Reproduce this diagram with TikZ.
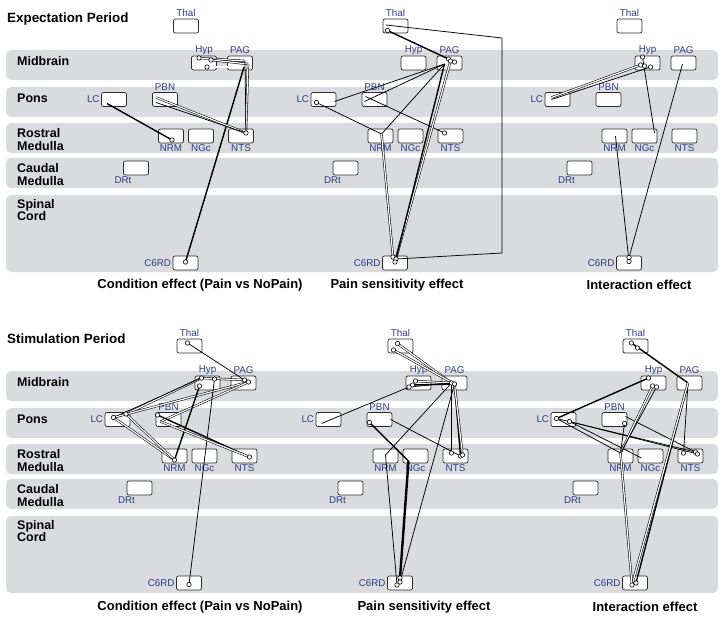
\documentclass[tikz,border=0pt]{standalone}
\usepackage{fontspec}
\setmainfont{Liberation Sans}
\usetikzlibrary{calc}
\definecolor{bandgray}{HTML}{DADBDE}
\definecolor{labblue}{HTML}{2E3A85}
\definecolor{boxline}{HTML}{2A2A2A}

% point inside a region box, offset from its centre
\newcommand{\spot}[4]{\coordinate (#1) at ([shift={(#3,#4)}]#2.center);}
% one set of region boxes: #1 name prefix, #2/#3 shift
\newcommand{\brainpanel}[3]{%
  \begin{scope}[shift={(#2,#3)}]
    \node[region, label={[lab]above:Thal}] (#1Thal) at (186,26) {};
    \node[region, label={[lab]above:Hyp}] (#1Hyp) at (204,63) {};
    \node[region, label={[lab]above:PAG}] (#1PAG) at (240,63) {};
    \node[region, label={[lab]left:LC}] (#1LC) at (114,99.5) {};
    \node[region, label={[lab]above:PBN}] (#1PBN) at (165,99.5) {};
    \node[region, label={[lab]below:NRM}] (#1NRM) at (171,136) {};
    \node[region, label={[lab]below:NGc}] (#1NGc) at (201,136) {};
    \node[region, label={[lab]below:NTS}] (#1NTS) at (241,136) {};
    \node[region, label={[lab, xshift=-13pt]below:DRt}] (#1DRt) at (136,168) {};
    \node[region, label={[lab]left:C6RD}] (#1C6RD) at (185.5,263) {};
  \end{scope}}

\begin{document}
\begin{tikzpicture}[x=1pt, y=-1pt,
  band/.style={fill=bandgray, rounded corners=5pt},
  zone/.style={anchor=west, align=left, inner sep=0pt, font=\fontsize{12.5}{12.5}\selectfont\bfseries},
  heading/.style={anchor=west, inner sep=0pt, font=\fontsize{13.4}{14}\selectfont\bfseries},
  effect/.style={inner sep=0pt, font=\fontsize{13}{14}\selectfont\bfseries},
  region/.style={draw=boxline, line width=0.7pt, rounded corners=2pt, fill=white, minimum width=25pt, minimum height=14pt, inner sep=0pt},
  lab/.style={font=\fontsize{9.8}{10}\selectfont, text=labblue, inner sep=1.4pt},
  solo/.style={line width=0.75pt},
  strong/.style={line width=1.4pt},
  heavy/.style={line width=2.4pt},
  twin/.style={draw=black, line width=0.55pt, double=white, double distance=1.2pt},
  hole/.style={draw=black, fill=white, line width=0.6pt},
]
\useasboundingbox (0,0) rectangle (728,623);

% grey rows and row names, same for both periods
\foreach \dy/\p in {0/e, 321/s}{
  \begin{scope}[shift={(0,\dy)}]
    \fill[band] (6,50) rectangle (718,80);
    \fill[band] (6,87) rectangle (718,117);
    \fill[band] (6,123) rectangle (718,153);
    \fill[band] (6,158) rectangle (718,188);
    \fill[band] (6,195) rectangle (718,272);
    \node[zone] (\p mid) at (17,61) {Midbrain};
    \node[zone] (\p pons) at (17,98) {Pons};
    \node[zone] (\p rost) at (17,139.5) {Rostral\\Medulla};
    \node[zone] (\p caud) at (17,174.5) {Caudal\\Medulla};
    \node[zone] (\p spin) at (17,210) {Spinal\\Cord};
  \end{scope}
}

\node[heading] (expect) at (7,19) {Expectation Period};
\node[heading] (stim) at (7,339) {Stimulation Period};

\brainpanel{ec}{0}{0}
\brainpanel{es}{209.5}{0}
\brainpanel{ei}{443.5}{0}
\brainpanel{sc}{3.5}{320}
\brainpanel{ss}{214.5}{320}
\brainpanel{si}{449.5}{320}

\node[effect] (ecCap) at (200,285) {Condition effect (Pain vs NoPain)};
\node[effect] (esCap) at (397,285) {Pain sensitivity effect};
\node[effect] (eiCap) at (639,285) {Interaction effect};
\node[effect] (scCap) at (200,607) {Condition effect (Pain vs NoPain)};
\node[effect] (ssCap) at (424,607) {Pain sensitivity effect};
\node[effect] (siCap) at (645,607) {Interaction effect};

% Expectation: condition effect
\spot{ecHyp1}{ecHyp}{-5}{-5}
\spot{ecHyp2}{ecHyp}{7}{-3}
\spot{ecHyp3}{ecHyp}{3}{4}
\spot{ecPAG1}{ecPAG}{5}{-2}
\spot{ecPAG2}{ecPAG}{8}{1}
\spot{ecPAG3}{ecPAG}{4}{4}
\spot{ecPBN1}{ecPBN}{-9}{-2}
\spot{ecPBN2}{ecPBN}{-9}{3}
\spot{ecLC1}{ecLC}{-7}{4}
\spot{ecNRM1}{ecNRM}{1}{4}
\spot{ecNTS1}{ecNTS}{5}{-3}
\spot{ecC6RD1}{ecC6RD}{0}{-1}
\draw[twin] (ecHyp1) -- (ecPAG1);
\draw[twin] (ecHyp2) -- (ecPAG2);
\draw[twin] (ecHyp3) -- (ecPAG3);
\draw[twin] (ecPAG2) -- (ecNTS1);
\draw[solo] (ecPAG1) -- (ecNTS1);
\draw[strong] (ecPAG3) -- (ecC6RD1);
\draw[twin] (ecPBN1) -- (ecNTS1);
\draw[solo] (ecPBN2) -- (ecNTS1);
\draw[strong] (ecLC1) -- (ecNRM1);
\foreach \c in {ecHyp1,ecHyp2,ecHyp3,ecNRM1,ecNTS1,ecC6RD1} \draw[hole] (\c) circle (2.2pt);

% Expectation: pain sensitivity effect
\spot{esThal1}{esThal}{-8}{4.5}
\spot{esThal2}{esThal}{-9.5}{-1}
\spot{esPAG1}{esPAG}{-1}{-4}
\spot{esPAG2}{esPAG}{1}{-2}
\spot{esPAG3}{esPAG}{5}{-1}
\spot{esPAG4}{esPAG}{-5}{1}
\spot{esLC1}{esLC}{-7}{3}
\spot{esLC2}{esLC}{11}{2}
\spot{esPBN1}{esPBN}{-10}{2}
\spot{esPBN2}{esPBN}{-9}{-3}
\spot{esNRM1}{esNRM}{1}{-2}
\spot{esNTS1}{esNTS}{-6}{-3}
\spot{esC6RD1}{esC6RD}{-2}{-6}
\spot{esC6RD2}{esC6RD}{1}{-4}
\spot{esC6RD3}{esC6RD}{0}{-1}
\coordinate (esBendA) at (502,38);
\coordinate (esBendB) at (502,253);
\draw[strong] (esThal1) -- (esPAG1);
\draw[solo] (esThal2) -- (esBendA) -- (esBendB) -- (esC6RD2);
\draw[solo] (esPAG4) -- (esLC2);
\draw[solo] (esPAG4) -- (esPBN1);
\draw[solo] (esPBN2) -- (esNTS1);
\draw[solo] (esLC1) -- (esNRM1);
\draw[solo] (esNRM1) -- (esPAG4);
\draw[twin] (esNRM1) -- (esC6RD1);
\draw[twin] (esPAG2) -- (esC6RD3);
\draw[strong] (esPAG4) -- (esC6RD2);
\foreach \c in {esThal1,esPAG1,esPAG2,esPAG3,esLC1,esNTS1,esC6RD1,esC6RD2,esC6RD3} \draw[hole] (\c) circle (2.2pt);

% Expectation: interaction effect
\spot{eiHyp1}{eiHyp}{-5}{-6}
\spot{eiHyp2}{eiHyp}{-7}{2}
\spot{eiHyp3}{eiHyp}{-3}{3}
\spot{eiHyp4}{eiHyp}{3}{4}
\spot{eiLC1}{eiLC}{-6}{-2}
\spot{eiLC2}{eiLC}{-6}{0}
\spot{eiPAG1}{eiPAG}{-1}{1}
\spot{eiNRM1}{eiNRM}{1}{0}
\spot{eiNGc1}{eiNGc}{10}{-3}
\spot{eiC6RD1}{eiC6RD}{0}{-5.5}
\spot{eiC6RD2}{eiC6RD}{0}{-1.5}
\draw[twin] (eiLC1) -- (eiHyp2);
\draw[solo] (eiLC2) -- (eiHyp4);
\draw[solo] (eiHyp1) -- (eiNGc1);
\draw[solo] (eiPAG1) -- (eiC6RD1);
\draw[solo] (eiNRM1) -- (eiC6RD2);
\foreach \c in {eiHyp1,eiHyp2,eiHyp3,eiHyp4,eiC6RD1,eiC6RD2} \draw[hole] (\c) circle (2.2pt);

% Stimulation: condition effect
\spot{scThal1}{scThal}{-2}{-3}
\spot{scHyp1}{scHyp}{-6}{-5}
\spot{scHyp2}{scHyp}{7}{-4}
\spot{scHyp3}{scHyp}{-8}{3}
\spot{scPAG1}{scPAG}{1}{-3}
\spot{scPAG2}{scPAG}{5}{-1}
\spot{scLC1}{scLC}{-4}{-2}
\spot{scLC2}{scLC}{8.5}{-5.5}
\spot{scPBN1}{scPBN}{-11}{-4.5}
\spot{scPBN2}{scPBN}{-8}{2}
\spot{scNRM1}{scNRM}{0}{4}
\spot{scNTS1}{scNTS}{5}{1}
\spot{scC6RD1}{scC6RD}{0}{1.5}
\draw[solo] (scThal1) -- (scPAG1);
\draw[twin] (scHyp1) -- (scPAG1);
\draw[twin] (scLC2) -- (scHyp1);
\draw[solo] (scLC1) -- (scHyp1);
\draw[twin] (scLC1) -- (scPAG2);
\draw[twin] (scPBN2) -- (scPAG2);
\draw[twin] (scLC1) -- (scNRM1);
\draw[twin] (scLC2) -- (scNRM1);
\draw[strong] (scHyp3) -- (scNRM1);
\draw[solo] (scHyp2) -- (scC6RD1);
\draw[strong] (scPBN1) -- (scNTS1);
\draw[twin] (scPBN2) -- (scNTS1);
\foreach \c in {scThal1,scHyp1,scHyp2,scHyp3,scPAG1,scPAG2,scLC1,scLC2,scPBN1,scNRM1,scNTS1,scC6RD1} \draw[hole] (\c) circle (2.2pt);

% Stimulation: pain sensitivity effect
\spot{ssThal1}{ssThal}{-3}{-2.5}
\spot{ssThal2}{ssThal}{-7}{4}
\spot{ssHyp1}{ssHyp}{-3}{-2}
\spot{ssHyp2}{ssHyp}{-6}{2}
\spot{ssHyp3}{ssHyp}{-9.5}{4}
\spot{ssPAG1}{ssPAG}{-3}{0}
\spot{ssPAG2}{ssPAG}{0}{1}
\spot{ssLC1}{ssLC}{-7}{4}
\spot{ssPBN1}{ssPBN}{-10}{3}
\spot{ssPBN2}{ssPBN}{11}{0}
\spot{ssNRM1}{ssNRM}{0}{-1}
\spot{ssNGc1}{ssNGc}{-7}{5}
\spot{ssNTS1}{ssNTS}{-4}{-3}
\spot{ssNTS2}{ssNTS}{5}{0}
\spot{ssNTS3}{ssNTS}{7}{-1}
\spot{ssC6RD1}{ssC6RD}{0}{-5}
\spot{ssC6RD2}{ssC6RD}{0}{-1}
\spot{ssC6RD3}{ssC6RD}{-3}{2}
\draw[twin] (ssThal1) -- (ssPAG1);
\draw[twin] (ssThal2) -- (ssPAG2);
\draw[twin] (ssHyp1) -- (ssPAG1);
\draw[strong] (ssHyp2) -- (ssPAG2);
\draw[solo] (ssHyp3) -- (ssPAG1);
\draw[solo] (ssLC1) -- (ssHyp3);
\draw[strong] (ssPBN1) -- (ssNGc1);
\draw[solo] (ssPBN2) -- (ssNTS2);
\draw[solo] (ssPAG1) -- (ssNTS1);
\draw[strong] (ssPAG2) -- (ssNTS2);
\draw[twin] (ssPAG2) -- (ssNTS3);
\draw[solo] (ssPAG1) -- (ssNRM1);
\draw[solo] (ssNRM1) -- (ssC6RD3);
\draw[solo] (ssPAG2) -- (ssC6RD2);
\draw[heavy] (ssNGc1) -- (ssC6RD1);
\foreach \c in {ssThal1,ssThal2,ssHyp1,ssHyp2,ssHyp3,ssPAG1,ssPAG2,ssPBN1,ssNTS1,ssNTS2,ssNTS3,ssC6RD1,ssC6RD2,ssC6RD3} \draw[hole] (\c) circle (2.2pt);

% Stimulation: interaction effect
\spot{siThal1}{siThal}{-4}{-3}
\spot{siThal2}{siThal}{2}{2}
\spot{siHyp1}{siHyp}{-5}{-5}
\spot{siHyp2}{siHyp}{-1}{3}
\spot{siHyp3}{siHyp}{3}{4}
\spot{siPAG1}{siPAG}{-1.5}{0}
\spot{siLC1}{siLC}{-7}{-1}
\spot{siLC2}{siLC}{6}{2}
\spot{siPBN1}{siPBN}{11}{-3}
\spot{siPBN2}{siPBN}{10}{4}
\spot{siNRM1}{siNRM}{0}{-3}
\spot{siNGc1}{siNGc}{-9}{2}
\spot{siNTS1}{siNTS}{-7}{-3}
\spot{siNTS2}{siNTS}{5}{-4}
\spot{siNTS3}{siNTS}{7}{-2}
\spot{siC6RD1}{siC6RD}{-3}{2}
\spot{siC6RD2}{siC6RD}{1}{0}
\draw[strong] (siThal1) -- (siPAG1);
\draw[strong] (siLC1) -- (siHyp1);
\draw[solo] (siLC1) -- (siNTS2);
\draw[solo] (siLC2) -- (siNTS3);
\draw[solo] (siLC2) -- (siNGc1);
\draw[solo] (siLC1) -- (siNRM1);
\draw[solo] (siPBN1) -- (siNTS2);
\draw[solo] (siPBN2) -- (siNRM1);
\draw[twin] (siHyp2) -- (siNRM1);
\draw[solo] (siHyp3) -- (siNRM1);
\draw[solo] (siPAG1) -- (siNTS1);
\draw[strong] (siPAG1) -- (siC6RD2);
\draw[twin] (siPAG1) -- (siC6RD1);
\draw[twin] (siNRM1) -- (siC6RD1);
\foreach \c in {siThal1,siThal2,siHyp1,siHyp2,siHyp3,siLC1,siLC2,siPBN2,siNTS1,siNTS2,siNTS3,siC6RD1,siC6RD2} \draw[hole] (\c) circle (2.2pt);

\end{tikzpicture}
\end{document}
